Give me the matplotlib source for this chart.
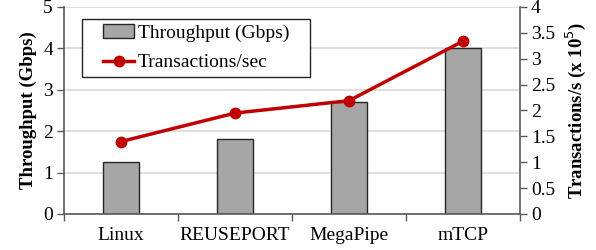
import matplotlib
matplotlib.use("Agg")
import matplotlib.pyplot as plt
from matplotlib.patches import Rectangle
import numpy as np

categories = ["Linux", "REUSEPORT", "MegaPipe", "mTCP"]
throughput = [1.25, 1.80, 2.70, 4.02]
transactions = [1.40, 1.95, 2.19, 3.34]
left_ticks = [0, 1, 2, 3, 4, 5]
right_ticks = [0, 0.5, 1, 1.5, 2, 2.5, 3, 3.5, 4]

plt.rcParams['font.family'] = ['Liberation Serif', 'DejaVu Serif']

W, H = 596, 250
fig = plt.figure(figsize=(5.96, 2.5), dpi=100)
ax = fig.add_axes([64/W, 1-214/H, (520-64)/W, 207/H])
x = np.arange(len(categories))
ax.set_axisbelow(True)
ax.yaxis.grid(True, color='#d9d9d9', linewidth=1.2)
bars = ax.bar(x, throughput, width=0.31, color='#a6a6a6', edgecolor='#262626',
              linewidth=1.0, label='Throughput (Gbps)', zorder=2)
ax.set_xlim(-0.5, len(categories) - 0.5)
ax.set_ylim(0, 5)
ax.set_yticks(left_ticks)
ax.set_yticklabels([str(t) for t in left_ticks], fontsize=14)
ax.set_xticks(x)
ax.set_xticklabels(categories, fontsize=14)
ax.set_xticks(np.arange(len(categories) + 1) - 0.5, minor=True)
ax.tick_params(axis='x', which='major', length=0, pad=9)
ax.tick_params(axis='x', which='minor', length=5, width=1, color='#595959')
ax.tick_params(axis='y', length=5, width=1, color='#595959', pad=3)
ax.set_ylabel('Throughput (Gbps)', fontsize=13.5, fontweight='bold', labelpad=4)
for s in ['top', 'right']:
    ax.spines[s].set_visible(False)
for s in ['left', 'bottom']:
    ax.spines[s].set_color('#595959')
    ax.spines[s].set_linewidth(1.2)

ax2 = ax.twinx()
line, = ax2.plot(x, transactions, color='#c00000', linewidth=2.5, marker='o',
                 markersize=7.5, label='Transactions/sec', zorder=3)
ax2.set_ylim(0, 4)
ax2.set_yticks(right_ticks)
ax2.set_yticklabels([('%g' % t) for t in right_ticks], fontsize=14)
ax2.tick_params(axis='y', length=5, width=1, color='#595959', pad=3)
ax2.set_ylabel('Transactions/s (x 10$^5$)', fontsize=13.5, fontweight='bold', labelpad=6)
for s in ['top', 'left', 'bottom']:
    ax2.spines[s].set_visible(False)
ax2.spines['right'].set_color('#595959')
ax2.spines['right'].set_linewidth(1.2)

# legend frame
frame = Rectangle((82/W, 1-77/H), (310-82)/W, (77-19)/H, transform=fig.transFigure,
                  facecolor='white', edgecolor='#262626', linewidth=1.0, zorder=9)
fig.add_artist(frame)
leg = ax.legend([bars, line], ['Throughput (Gbps)', 'Transactions/sec'],
                loc='upper left', bbox_to_anchor=(103/W, 1-24/H),
                bbox_transform=fig.transFigure, fontsize=14, frameon=False,
                handlelength=1.6, handletextpad=0.2, borderpad=0,
                labelspacing=0.62, borderaxespad=0)
leg.set_zorder(10)
leg.remove()
fig.add_artist(leg)

fig.savefig('out.png', dpi=100)
